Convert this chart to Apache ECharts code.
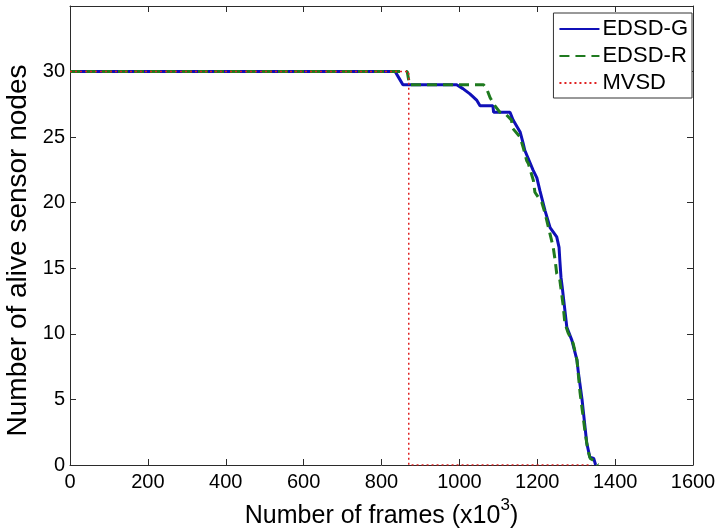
<!DOCTYPE html>
<html>
<head>
<meta charset="utf-8">
<script src="https://cdn.jsdelivr.net/npm/echarts@6/dist/echarts.min.js"></script>
<style>html,body{margin:0;padding:0;background:#fff}#c{width:719px;height:531px}</style>
</head>
<body>
<div id="c"></div>
<script>
var xTicks = [0, 200, 400, 600, 800, 1000, 1200, 1400, 1600];
var yTicks = [0, 5, 10, 15, 20, 25, 30];

var edsdGx = [0, 835, 845, 855, 993, 1009, 1027, 1045, 1053, 1086, 1088, 1130, 1138, 1156, 1164, 1168, 1189, 1199, 1207, 1220, 1233, 1250, 1256, 1258, 1261, 1264, 1276, 1289, 1302, 1305, 1315, 1327, 1335, 1345, 1350];
var edsdGy = [30, 30, 29.5, 29, 29, 28.7, 28.3, 27.8, 27.4, 27.4, 26.9, 26.9, 26.3, 25.4, 24.5, 24, 22.5, 21.9, 20.9, 19.4, 18.1, 17.4, 16.6, 15.6, 14.3, 13.6, 10.5, 9.5, 8.0, 7.2, 5.0, 1.7, 0.6, 0.5, 0];

var edsdRx = [0, 866, 872, 1062, 1070, 1079, 1091, 1104, 1121, 1134, 1136, 1156, 1164, 1173, 1177, 1190, 1194, 1212, 1220, 1241, 1246, 1250, 1258, 1266, 1271, 1279, 1292, 1302, 1310, 1322, 1330, 1336, 1348, 1356];
var edsdRy = [30, 30, 29, 29, 28.7, 28.0, 27.4, 26.9, 26.7, 26.3, 25.7, 25.0, 24.2, 23.2, 23.0, 21.7, 20.8, 20.0, 19.2, 16.6, 15.6, 14.6, 14.1, 12.3, 10.8, 10.1, 9.3, 8.0, 5.5, 2.7, 1.1, 0.5, 0.3, 0];

var mvsdX = [0, 870, 870, 1340];
var mvsdY = [30, 30, 0, 0];

function zip(a, b) { return a.map(function (v, i) { return [v, b[i]]; }); }

var font = 'Liberation Sans, Arial, Helvetica, sans-serif';
var axisCol = '#2b2b2b';

var chart = echarts.init(document.getElementById('c'), null, { renderer: 'canvas' });
var tickCommon = { show: true, inside: true, length: 6, lineStyle: { color: axisCol, width: 1 } };
chart.setOption({
  animation: false,
  backgroundColor: '#fff',
  grid: { left: 70, right: 26, top: 6, bottom: 66, containLabel: false, outerBoundsMode: 'none' },
  legend: {
    orient: 'vertical',
    right: 27, top: 13,
    backgroundColor: '#fff',
    borderColor: '#333', borderWidth: 1,
    padding: [5, 4, 4, 5],
    itemGap: 5,
    itemWidth: 40, itemHeight: 14,
    itemStyle: { opacity: 0 },
    textStyle: { fontFamily: font, fontSize: 22, color: '#000', padding: [0, 0, 0, -2] },
    data: ['EDSD-G', 'EDSD-R', 'MVSD']
  },
  xAxis: [{
    type: 'value', min: 0, max: 1600, interval: 200,
    name: '{n|Number of frames (x10}{sup|3}{n|)}', nameLocation: 'middle', nameGap: 32,
    nameTextStyle: {
      fontFamily: font, fontSize: 25, color: '#000',
      rich: {
        n: { fontFamily: font, fontSize: 25, color: '#000', lineHeight: 32, verticalAlign: 'bottom' },
        sup: { fontFamily: font, fontSize: 17, color: '#000', lineHeight: 20, verticalAlign: 'top' }
      }
    },
    axisLine: { show: true, onZero: false, lineStyle: { color: axisCol, width: 1 } },
    axisTick: tickCommon,
    axisLabel: { fontFamily: font, fontSize: 20, color: '#000', margin: 7,
      formatter: function (v) { return xTicks.indexOf(v) >= 0 ? String(v) : ''; } },
    splitLine: { show: false }
  }, {
    type: 'value', position: 'top', min: 0, max: 1600, interval: 200,
    axisLine: { show: true, onZero: false, lineStyle: { color: axisCol, width: 1 } },
    axisTick: tickCommon, axisLabel: { show: false }, splitLine: { show: false }
  }],
  yAxis: [{
    type: 'value', min: 0, max: 35, interval: 5,
    name: 'Number of alive sensor nodes', nameLocation: 'middle', nameGap: 31,
    nameTextStyle: { fontFamily: font, fontSize: 28, color: '#000', padding: [0, 30, 0, 0] },
    axisLine: { show: true, onZero: false, lineStyle: { color: axisCol, width: 1 } },
    axisTick: tickCommon,
    axisLabel: { fontFamily: font, fontSize: 20, color: '#000', margin: 5,
      formatter: function (v) { return yTicks.indexOf(v) >= 0 ? String(v) : ''; } },
    splitLine: { show: false }
  }, {
    type: 'value', position: 'right', min: 0, max: 35, interval: 5,
    axisLine: { show: true, onZero: false, lineStyle: { color: axisCol, width: 1 } },
    axisTick: tickCommon, axisLabel: { show: false }, splitLine: { show: false }
  }],
  series: [{
    name: 'EDSD-G', type: 'line', symbol: 'none', z: 2,
    data: zip(edsdGx, edsdGy),
    itemStyle: { color: '#1010b8' },
    lineStyle: { color: '#1010b8', width: 3 }
  }, {
    name: 'EDSD-R', type: 'line', symbol: 'none', z: 3,
    data: zip(edsdRx, edsdRy),
    itemStyle: { color: '#1f7a1f' },
    lineStyle: { color: '#1f7a1f', width: 3, type: [10, 6] }
  }, {
    name: 'MVSD', type: 'line', symbol: 'none', z: 4,
    data: zip(mvsdX, mvsdY),
    itemStyle: { color: '#e02020' },
    lineStyle: { color: '#e02020', width: 1.5, type: [2, 3] }
  }]
});
</script>
</body>
</html>
